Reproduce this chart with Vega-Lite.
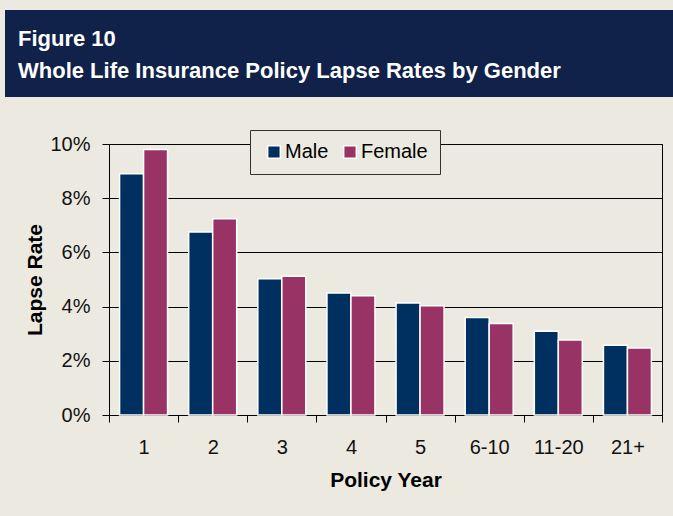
{
  "$schema": "https://vega.github.io/schema/vega-lite/v6.json",
  "background": "#ECE9E0",
  "padding": {"left": 5, "top": 10, "right": 0, "bottom": 30},
  "autosize": {"type": "pad"},
  "config": {"font": "Liberation Sans", "view": {"stroke": null}},
  "spacing": 47,
  "center": true,
  "bounds": "flush",
  "vconcat": [
    {
      "width": 761,
      "height": 87,
      "view": {"fill": "#10214A", "stroke": null},
      "title": {
        "text": ["Figure 10", "Whole Life Insurance Policy Lapse Rates by Gender"],
        "orient": "top",
        "anchor": "start",
        "frame": "group",
        "offset": -73,
        "baseline": "top",
        "dx": 13,
        "color": "#FFFFFF",
        "fontSize": 22,
        "fontWeight": "bold",
        "lineHeight": 32
      },
      "data": {"values": [{"k": 1}]},
      "mark": {"type": "rect", "color": "#10214A", "opacity": 0},
      "encoding": {}
    },
    {
      "width": 553,
      "height": 271,
      "view": {"fill": "#ECE9E0", "stroke": "#000000", "strokeWidth": 1},
      "data": {
        "values": [
          {"year": "1", "gender": "Male", "rate": 0.089},
          {"year": "1", "gender": "Female", "rate": 0.098},
          {"year": "2", "gender": "Male", "rate": 0.0675},
          {"year": "2", "gender": "Female", "rate": 0.0724},
          {"year": "3", "gender": "Male", "rate": 0.0503},
          {"year": "3", "gender": "Female", "rate": 0.0512},
          {"year": "4", "gender": "Male", "rate": 0.045},
          {"year": "4", "gender": "Female", "rate": 0.044},
          {"year": "5", "gender": "Male", "rate": 0.0413},
          {"year": "5", "gender": "Female", "rate": 0.0403},
          {"year": "6-10", "gender": "Male", "rate": 0.036},
          {"year": "6-10", "gender": "Female", "rate": 0.0338},
          {"year": "11-20", "gender": "Male", "rate": 0.0309},
          {"year": "11-20", "gender": "Female", "rate": 0.0277},
          {"year": "21+", "gender": "Male", "rate": 0.0257},
          {"year": "21+", "gender": "Female", "rate": 0.0247}
        ]
      },
      "mark": {"type": "bar", "stroke": "#FFFFFF", "strokeWidth": 1.5},
      "encoding": {
        "x": {
          "field": "year",
          "type": "nominal",
          "sort": ["1", "2", "3", "4", "5", "6-10", "11-20", "21+"],
          "scale": {"paddingInner": 0, "paddingOuter": 0},
          "axis": {
            "title": "Policy Year",
            "labelAngle": 0,
            "tickBand": "extent",
            "domainColor": "#000000",
            "tickColor": "#000000",
            "tickSize": 7,
            "labelFontSize": 20,
            "labelColor": "#111111",
            "labelPadding": 15,
            "titleFontSize": 21,
            "titleFontWeight": "bold",
            "titleColor": "#000000",
            "titlePadding": 12,
            "grid": false
          }
        },
        "xOffset": {
          "field": "gender",
          "sort": ["Male", "Female"],
          "scale": {"paddingInner": 0, "paddingOuter": 0.44}
        },
        "y": {
          "field": "rate",
          "type": "quantitative",
          "scale": {"domain": [0, 0.1]},
          "axis": {
            "title": "Lapse Rate",
            "format": ".0%",
            "values": [0, 0.02, 0.04, 0.06, 0.08, 0.1],
            "grid": true,
            "gridColor": "#000000",
            "gridOpacity": 1,
            "gridWidth": 1,
            "domainColor": "#000000",
            "tickColor": "#000000",
            "tickSize": 7,
            "labelFontSize": 20,
            "labelColor": "#111111",
            "labelPadding": 12,
            "titleFontSize": 21,
            "titleFontWeight": "bold",
            "titleColor": "#000000",
            "titlePadding": 4
          }
        },
        "color": {
          "field": "gender",
          "type": "nominal",
          "scale": {"domain": ["Male", "Female"], "range": ["#00305F", "#993366"]},
          "legend": {
            "orient": "none",
            "legendX": 245,
            "legendY": 120,
            "direction": "horizontal",
            "title": null,
            "symbolType": "square",
            "symbolSize": 160,
            "symbolStrokeColor": "#FFFFFF",
            "symbolStrokeWidth": 1.5,
            "labelFontSize": 20,
            "labelColor": "#000000",
            "labelOffset": 1,
            "columnPadding": 9,
            "symbolOffset": 2,
            "padding": 12,
            "strokeColor": "#333333",
            "fillColor": "#ECE9E0"
          }
        }
      }
    }
  ]
}
